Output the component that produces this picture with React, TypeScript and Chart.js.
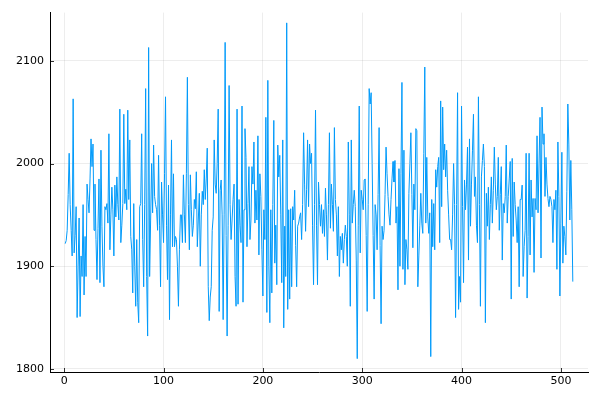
import React, { useEffect, useRef } from "react";
import { Chart, registerables } from "chart.js";

Chart.register(...registerables);

// series values, index 1..512
const values: number[] = [
  1922, 1925, 1935, 1970, 2010, 1960, 1935, 1910, 2063, 1913,
  1930, 1958, 1850, 1900, 1947, 1851, 1910, 1890, 1960, 1872,
  1929, 1890, 1980, 1965, 1952, 1985, 2024, 1997, 2019, 1935,
  1980, 1926, 1887, 1937, 1985, 1884, 2013, 1939, 1900, 1880,
  1958, 1955, 1961, 1942, 2029, 1916, 1950, 1977, 1955, 1910,
  1979, 1948, 1987, 1960, 1945, 2053, 1923, 1940, 1961, 2048,
  1961, 1975, 1955, 2052, 1965, 2023, 1929, 1916, 1874, 1961,
  1900, 1861, 1926, 1865, 1845, 1958, 1961, 2029, 1926, 1880,
  1960, 2073, 1890, 1832, 2113, 1890, 1945, 2000, 1952, 2018,
  1968, 1960, 1955, 1935, 2008, 1940, 1880, 1982, 1950, 1923,
  1990, 2065, 1940, 1887, 1979, 1848, 1950, 2023, 1919, 1990,
  1919, 1929, 1926, 1900, 1861, 1916, 1950, 1950, 1923, 1989,
  1950, 1923, 1990, 2084, 1960, 1916, 1989, 1955, 1929, 1940,
  1965, 1956, 1992, 1919, 1945, 1971, 1900, 1950, 1973, 1960,
  1994, 1965, 1985, 2015, 1880, 1847, 1870, 1880, 1935, 1948,
  2023, 1980, 1971, 2000, 2053, 1856, 1974, 1984, 1950, 1848,
  1950, 2118, 1930, 1832, 1940, 2076, 1960, 1926, 1945, 1965,
  1980, 1890, 1861, 2053, 1863, 1965, 1940, 1923, 2056, 1865,
  1955, 2034, 2006, 1919, 1961, 1997, 1926, 1945, 1997, 1980,
  2021, 1942, 1974, 1945, 2027, 1911, 1990, 1968, 1916, 1871,
  1955, 1926, 2045, 1855, 2081, 1900, 1845, 1955, 1874, 1960,
  2042, 1903, 1940, 1882, 2018, 1987, 2008, 1950, 1884, 2023,
  1840, 1939, 1890, 2137, 1858, 1955, 1868, 1956, 1880, 1958,
  1945, 1974, 1920, 1880, 1939, 1942, 1948, 1952, 1926, 1960,
  2030, 1980, 1934, 1975, 2023, 1958, 2019, 2000, 2010, 1940,
  1882, 1960, 2052, 1940, 1882, 1982, 1960, 1939, 1960, 1932,
  1955, 1929, 1976, 1950, 1906, 1960, 2030, 1937, 1980, 1960,
  1934, 2035, 1965, 1950, 1910, 1958, 1890, 1929, 1916, 1932,
  1903, 1926, 1940, 1929, 1900, 2021, 1950, 1861, 2023, 1942,
  1960, 1974, 1958, 1906, 1810, 1940, 2056, 1913, 1974, 1965,
  1955, 1984, 1985, 1930, 1856, 1960, 2073, 2058, 2069, 2000,
  1930, 1868, 1960, 1950, 1916, 1970, 2035, 1920, 1844, 1939,
  1926, 1935, 1970, 2016, 1990, 1968, 1950, 1940, 1965, 1985,
  2002, 1982, 2003, 1942, 1958, 1877, 1995, 1900, 1990, 2079,
  1897, 2013, 1882, 1926, 1916, 1897, 1971, 2000, 2030, 1970,
  1918, 1980, 1955, 2034, 2032, 1880, 1910, 1940, 1971, 1942,
  1932, 2010, 2094, 1942, 2006, 1948, 1932, 1952, 1812, 1965,
  1919, 1961, 1916, 1994, 1977, 1997, 2006, 1923, 2061, 1958,
  2055, 1994, 2019, 1987, 2013, 1974, 1950, 1926, 1926, 1916,
  1950, 2000, 1960, 1850, 1960, 2069, 1858, 1890, 1865, 2056,
  1958, 1884, 1984, 1955, 1980, 2016, 1906, 2024, 1939, 1980,
  2013, 2048, 1968, 1987, 1940, 1923, 2065, 1960, 1861, 1987,
  2003, 2019, 1997, 1845, 1971, 1939, 1977, 1926, 1960, 1987,
  1942, 1974, 2016, 1980, 1955, 1968, 2006, 1935, 1970, 1997,
  1906, 1961, 1952, 1968, 2018, 1942, 1968, 1985, 2002, 1868,
  2005, 1929, 1982, 1960, 1945, 1923, 1958, 1880, 1965, 1965,
  1979, 1890, 1919, 1935, 2010, 1869, 1929, 2010, 1911, 1984,
  1948, 1966, 1894, 1966, 1955, 2027, 1952, 2000, 2045, 1908,
  2055, 2019, 2029, 1968, 2006, 1980, 1966, 1958, 1968, 1965,
  1958, 1923, 1965, 1955, 1974, 1897, 2021, 1968, 1871, 1942,
  2011, 1903, 1939, 1929, 1911, 1973, 2058, 2019, 1945, 2003,
  1955, 1885,
];

const xTicks: number[] = [0, 100, 200, 300, 400, 500];
const yTicks: number[] = [1800, 1900, 2000, 2100];

const LINE_COLOR = "rgb(0,154,250)";
const FONT = "'DejaVu Sans', sans-serif";

const innerTicks = {
  id: "innerTicks",
  afterDraw(chart: any) {
    const ctx = chart.ctx;
    const area = chart.chartArea;
    const xs = chart.scales.x;
    const ys = chart.scales.y;
    ctx.save();
    ctx.strokeStyle = "rgba(0,0,0,0.8)";
    ctx.lineWidth = 1;
    ctx.beginPath();
    for (const v of xTicks) {
      const px = Math.round(xs.getPixelForValue(v)) + 0.5;
      ctx.moveTo(px, area.bottom);
      ctx.lineTo(px, area.bottom - 4);
    }
    for (const v of yTicks) {
      const py = Math.round(ys.getPixelForValue(v)) + 0.5;
      ctx.moveTo(area.left, py);
      ctx.lineTo(area.left + 4, py);
    }
    ctx.stroke();
    ctx.restore();
  },
};

export default function App() {
  const ref = useRef<HTMLCanvasElement | null>(null);

  useEffect(() => {
    document.body.style.margin = "0";
    const canvas = ref.current;
    if (!canvas) return;
    const data = values.map((v, i) => ({ x: i + 1, y: v }));
    const chart = new Chart(canvas, {
      type: "line",
      data: {
        datasets: [
          {
            data,
            borderColor: LINE_COLOR,
            borderWidth: 1,
            pointRadius: 0,
            tension: 0,
            fill: false,
          },
        ],
      },
      options: {
        animation: false,
        responsive: false,
        maintainAspectRatio: false,
        layout: { padding: { left: 0, top: 12, right: 12, bottom: 0 } },
        plugins: {
          legend: { display: false },
          tooltip: { enabled: false },
        },
        scales: {
          x: {
            type: "linear",
            min: -14.3,
            max: 527.3,
            afterFit: (s: any) => {
              s.height = 28;
            },
            afterBuildTicks: (s: any) => {
              s.ticks = xTicks.map((v) => ({ value: v }));
            },
            ticks: {
              color: "#000",
              font: { family: FONT, size: 11 },
              padding: 3,
              maxRotation: 0,
              autoSkip: false,
              callback: (v: any) => String(v),
            },
            grid: {
              color: "rgba(0,0,0,0.07)",
              lineWidth: 1,
              drawTicks: false,
            },
            border: { display: true, color: "#000", width: 1 },
          },
          y: {
            type: "linear",
            min: 1797,
            max: 2147,
            afterFit: (s: any) => {
              s.width = 50;
            },
            afterBuildTicks: (s: any) => {
              s.ticks = yTicks.map((v) => ({ value: v }));
            },
            ticks: {
              color: "#000",
              font: { family: FONT, size: 11 },
              padding: 6,
              autoSkip: false,
              callback: (v: any) => String(v),
            },
            grid: {
              color: "rgba(0,0,0,0.07)",
              lineWidth: 1,
              drawTicks: false,
            },
            border: { display: true, color: "#000", width: 1 },
          },
        },
      },
      plugins: [innerTicks],
    });
    return () => chart.destroy();
  }, []);

  return (
    <div style={{ position: "absolute", left: 0, top: 0, width: 600, height: 400, background: "#fff" }}>
      <canvas ref={ref} width={600} height={400} style={{ width: 600, height: 400 }} />
    </div>
  );
}
